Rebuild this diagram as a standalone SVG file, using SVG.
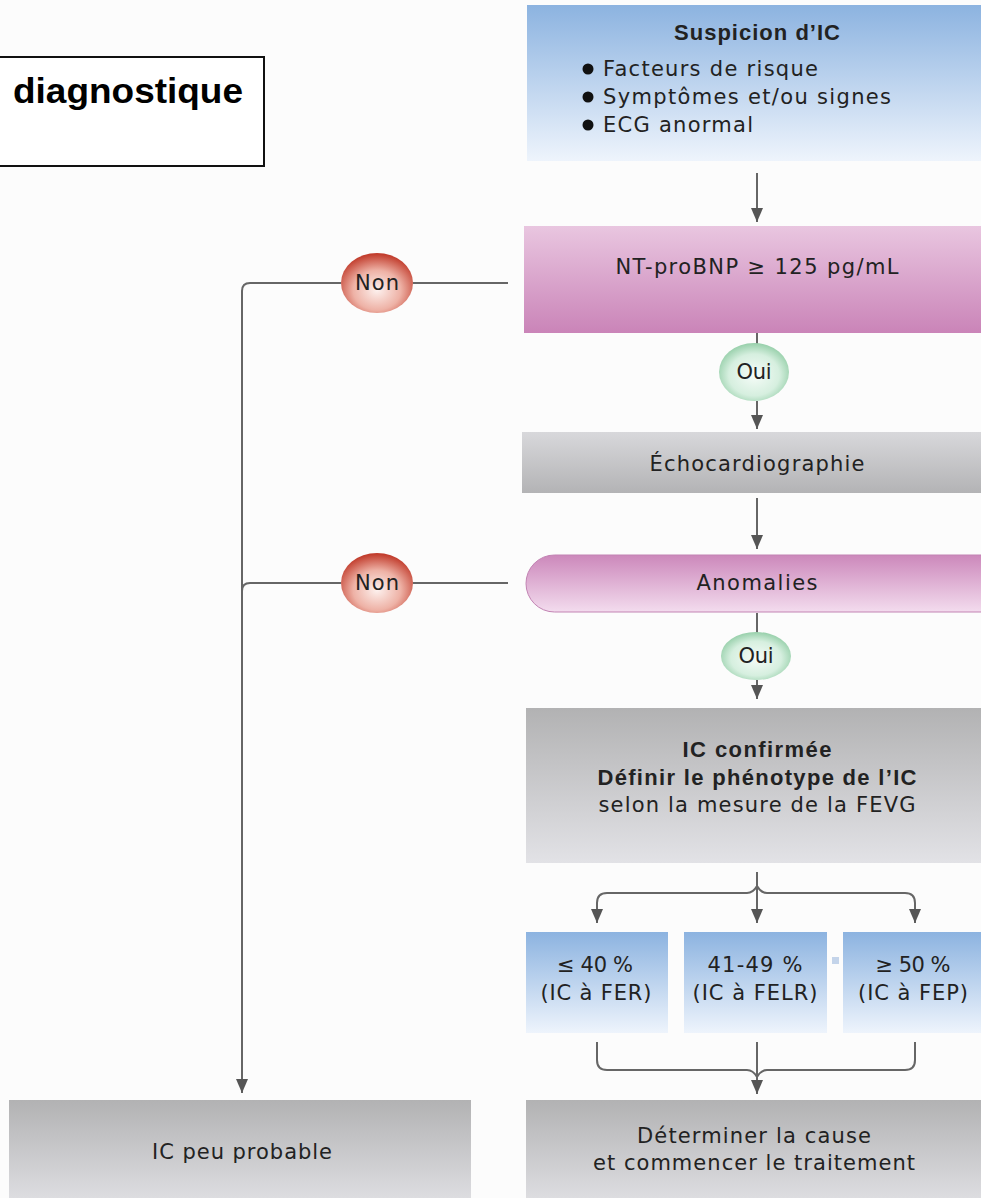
<svg xmlns="http://www.w3.org/2000/svg" width="981" height="1198" viewBox="0 0 981 1198">
<defs>
<linearGradient id="gBlue" x1="0" y1="0" x2="0" y2="1"><stop offset="0" stop-color="#8cb3e0"/><stop offset="1" stop-color="#eef4fc"/></linearGradient>
<linearGradient id="gPink" x1="0" y1="0" x2="0" y2="1"><stop offset="0" stop-color="#e9c6e0"/><stop offset="1" stop-color="#ca84b8"/></linearGradient>
<linearGradient id="gPill" x1="0" y1="0" x2="0" y2="1"><stop offset="0" stop-color="#cc88bb"/><stop offset="1" stop-color="#f3dcee"/></linearGradient>
<linearGradient id="gGrayUp" x1="0" y1="0" x2="0" y2="1"><stop offset="0" stop-color="#d8d8db"/><stop offset="1" stop-color="#b3b3b5"/></linearGradient>
<linearGradient id="gGray" x1="0" y1="0" x2="0" y2="1"><stop offset="0" stop-color="#b2b2b3"/><stop offset="1" stop-color="#e2e2e6"/></linearGradient>
<radialGradient id="gRed" cx="0.5" cy="0.62" r="0.6"><stop offset="0" stop-color="#fdf1ee"/><stop offset="0.55" stop-color="#eeb2a6"/><stop offset="1" stop-color="#c23e2e"/></radialGradient>
<radialGradient id="gGreen" cx="0.5" cy="0.55" r="0.6"><stop offset="0" stop-color="#f6fcf8"/><stop offset="0.6" stop-color="#d6efdf"/><stop offset="1" stop-color="#86c79c"/></radialGradient>
<marker id="arr" markerWidth="14" markerHeight="12" viewBox="0 0 14 12" refX="14" refY="6" orient="auto" markerUnits="userSpaceOnUse"><path d="M0,0 L14,6 L0,12 Z" fill="#555"/></marker>
</defs>
<style>
.t{font-family:"DejaVu Sans","Liberation Sans",Arial,sans-serif;font-size:21px;fill:#222;}
.b{font-family:"Liberation Sans",Arial,sans-serif;font-weight:bold;font-size:22px;}
.c{text-anchor:middle;}
.ln{fill:none;stroke:#666;stroke-width:2;}
.ar{fill:none;stroke:#666;stroke-width:2;marker-end:url(#arr);}
</style>
<rect width="981" height="1198" fill="#fcfcfc"/>

<g id="title">
<rect x="-10" y="57" width="274" height="109" fill="#fff" stroke="#111" stroke-width="2"/>
<text x="243" y="103" text-anchor="end" style="font-family:'Liberation Sans',Arial,sans-serif;font-size:35px;font-weight:bold;fill:#000" textLength="230" lengthAdjust="spacingAndGlyphs">diagnostique</text>
</g>

<g id="connectors">
<path class="ar" d="M757,173 V222"/>
<path class="ln" d="M757,333 V345"/>
<path class="ar" d="M757,401 V429"/>
<path class="ar" d="M757,498 V549"/>
<path class="ln" d="M757,613 V633"/>
<path class="ar" d="M757,680 V699"/>
<path class="ln" d="M508,283 H413"/>
<path class="ln" d="M341,283 H250 Q242,283 242,291 V1040"/>
<path class="ar" d="M242,1040 V1093"/>
<path class="ln" d="M508,583 H413"/>
<path class="ln" d="M341,583 H250 Q242,583 242,591"/>
<path class="ar" d="M757,872 V923"/>
<path class="ar" d="M597,903 Q597,893 607,893 H747 Q753,893 757,886 Q761,893 767,893 H905 Q915,893 915,903 V923"/>
<path class="ar" d="M597,903 V923"/>
<path class="ln" d="M597,1042 V1060 Q597,1070 607,1070 H747 Q753,1070 757,1077 Q761,1070 767,1070 H905 Q915,1070 915,1060 V1042"/>
<path class="ar" d="M757,1042 V1094"/>
</g>

<g id="suspicion">
<rect x="527" y="5" width="470" height="156" fill="url(#gBlue)"/>
<text class="t b c" x="757" y="40" textLength="166" lengthAdjust="spacing">Suspicion d’IC</text>
<circle cx="588" cy="69" r="5.5" fill="#111"/>
<circle cx="588" cy="97" r="5.5" fill="#111"/>
<circle cx="588" cy="125" r="5.5" fill="#111"/>
<text class="t" x="603" y="76" textLength="215" lengthAdjust="spacing">Facteurs de risque</text>
<text class="t" x="603" y="104" textLength="288" lengthAdjust="spacing">Symptômes et/ou signes</text>
<text class="t" x="603" y="132" textLength="150" lengthAdjust="spacing">ECG anormal</text>
</g>

<g id="ntprobnp">
<rect x="524" y="226" width="470" height="107" fill="url(#gPink)"/>
<text class="t c" x="757" y="274" textLength="283" lengthAdjust="spacing">NT-proBNP ≥ 125 pg/mL</text>
</g>

<g id="non1">
<ellipse cx="377" cy="283" rx="36" ry="30" fill="url(#gRed)"/>
<text class="t c" x="377" y="290" textLength="44" lengthAdjust="spacing">Non</text>
</g>

<g id="oui1">
<ellipse cx="754" cy="372" rx="35" ry="29" fill="url(#gGreen)"/>
<text class="t c" x="754" y="379" textLength="35" lengthAdjust="spacing">Oui</text>
</g>

<g id="echo">
<rect x="522" y="432" width="470" height="61" fill="url(#gGrayUp)"/>
<text class="t c" x="757" y="471" textLength="215" lengthAdjust="spacing">Échocardiographie</text>
</g>

<g id="anomalies">
<rect x="526" y="555" width="490" height="57" rx="28.5" fill="url(#gPill)" stroke="#c283b3" stroke-width="1"/>
<text class="t c" x="757" y="590" textLength="121" lengthAdjust="spacing">Anomalies</text>
</g>

<g id="non2">
<ellipse cx="377" cy="583" rx="36" ry="30" fill="url(#gRed)"/>
<text class="t c" x="377" y="590" textLength="44" lengthAdjust="spacing">Non</text>
</g>

<g id="oui2">
<ellipse cx="756" cy="656" rx="35" ry="24" fill="url(#gGreen)"/>
<text class="t c" x="756" y="663" textLength="35" lengthAdjust="spacing">Oui</text>
</g>

<g id="confirmee">
<rect x="526" y="708" width="470" height="155" fill="url(#gGray)"/>
<text class="t b c" x="757" y="757" textLength="149" lengthAdjust="spacing">IC confirmée</text>
<text class="t b c" x="757" y="785" textLength="319" lengthAdjust="spacing">Définir le phénotype de l’IC</text>
<text class="t c" x="757" y="812" textLength="317" lengthAdjust="spacing">selon la mesure de la FEVG</text>
</g>

<g id="fer">
<rect x="526" y="932" width="142" height="101" fill="url(#gBlue)"/>
<text class="t c" x="595" y="972" textLength="76" lengthAdjust="spacing">≤ 40 %</text>
<text class="t c" x="596" y="1000" textLength="111" lengthAdjust="spacing">(IC à FER)</text>
</g>

<g id="felr">
<rect x="684" y="932" width="143" height="101" fill="url(#gBlue)"/>
<text class="t c" x="755" y="972" textLength="95" lengthAdjust="spacing">41-49 %</text>
<text class="t c" x="755" y="1000" textLength="125" lengthAdjust="spacing">(IC à FELR)</text>
</g>

<rect x="832" y="957" width="7" height="7" fill="#c4d4ea"/>

<g id="fep">
<rect x="843" y="932" width="150" height="101" fill="url(#gBlue)"/>
<text class="t c" x="913" y="972" textLength="75" lengthAdjust="spacing">≥ 50 %</text>
<text class="t c" x="913" y="1000" textLength="110" lengthAdjust="spacing">(IC à FEP)</text>
</g>

<g id="cause">
<rect x="526" y="1100" width="470" height="110" fill="url(#gGray)"/>
<text class="t c" x="754" y="1143" textLength="234" lengthAdjust="spacing">Déterminer la cause</text>
<text class="t c" x="754" y="1170" textLength="322" lengthAdjust="spacing">et commencer le traitement</text>
</g>

<g id="peu">
<rect x="9" y="1100" width="462" height="110" fill="url(#gGray)"/>
<text class="t c" x="242" y="1159" textLength="180" lengthAdjust="spacing">IC peu probable</text>
</g>
</svg>
